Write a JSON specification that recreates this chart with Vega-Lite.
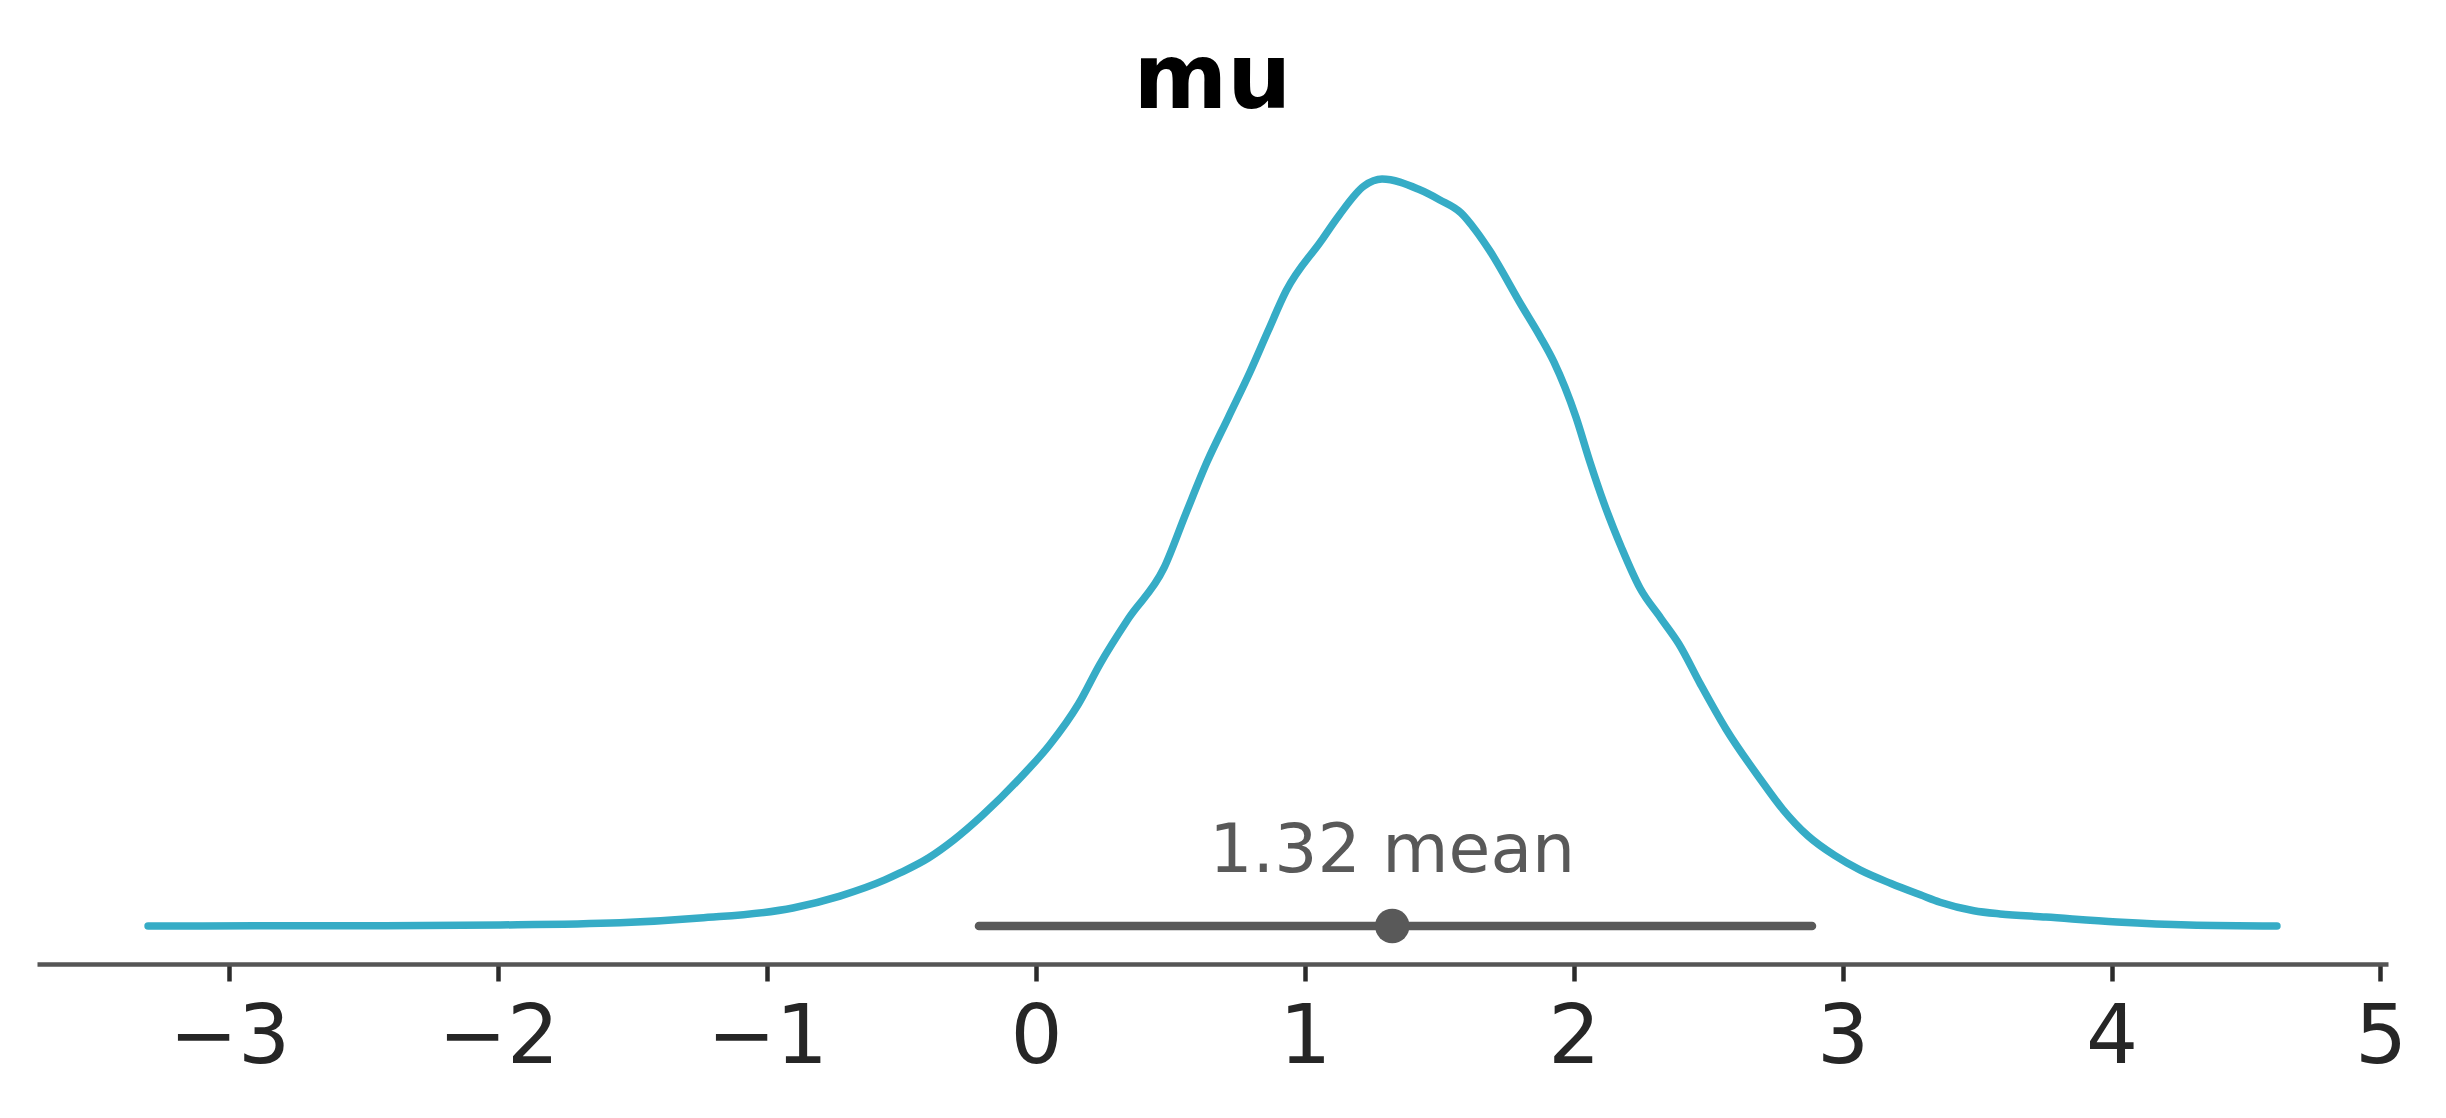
{
  "$schema": "https://vega.github.io/schema/vega-lite/v6.json",
  "width": 2351,
  "height": 824,
  "autosize": "none",
  "padding": {"left": 37, "right": 58, "top": 140, "bottom": 154},
  "background": "white",
  "title": {"text": "mu", "font": "DejaVu Sans", "fontSize": 90, "fontWeight": "bold", "color": "#000000", "anchor": "middle", "offset": 13},
  "config": {"view": {"stroke": null}},
  "datasets": {
    "kde": [
      {"x": -3.302, "density": 0.0000},
      {"x": -2.9, "density": 0.0001},
      {"x": -2.421, "density": 0.0002},
      {"x": -1.993, "density": 0.0006},
      {"x": -1.547, "density": 0.0019},
      {"x": -1.25, "density": 0.0047},
      {"x": -0.904, "density": 0.0106},
      {"x": -0.729, "density": 0.0176},
      {"x": -0.562, "density": 0.0271},
      {"x": -0.506, "density": 0.0312},
      {"x": -0.4, "density": 0.0400},
      {"x": -0.306, "density": 0.0506},
      {"x": -0.2, "density": 0.0650},
      {"x": -0.056, "density": 0.0876},
      {"x": 0.052, "density": 0.1068},
      {"x": 0.158, "density": 0.1306},
      {"x": 0.238, "density": 0.1541},
      {"x": 0.344, "density": 0.1809},
      {"x": 0.476, "density": 0.2106},
      {"x": 0.558, "density": 0.2429},
      {"x": 0.636, "density": 0.2729},
      {"x": 0.716, "density": 0.2994},
      {"x": 0.796, "density": 0.3259},
      {"x": 0.863, "density": 0.35},
      {"x": 0.93, "density": 0.3735},
      {"x": 1.06, "density": 0.4029},
      {"x": 1.127, "density": 0.418},
      {"x": 1.22, "density": 0.4353},
      {"x": 1.287, "density": 0.4394},
      {"x": 1.421, "density": 0.4335},
      {"x": 1.502, "density": 0.4271},
      {"x": 1.581, "density": 0.4194},
      {"x": 1.636, "density": 0.409},
      {"x": 1.688, "density": 0.3971},
      {"x": 1.807, "density": 0.3647},
      {"x": 1.874, "density": 0.347},
      {"x": 1.926, "density": 0.3318},
      {"x": 2.008, "density": 0.2994},
      {"x": 2.06, "density": 0.273},
      {"x": 2.112, "density": 0.2488},
      {"x": 2.179, "density": 0.222},
      {"x": 2.246, "density": 0.1988},
      {"x": 2.324, "density": 0.181},
      {"x": 2.391, "density": 0.1659},
      {"x": 2.472, "density": 0.142},
      {"x": 2.566, "density": 0.1159},
      {"x": 2.696, "density": 0.0859},
      {"x": 2.778, "density": 0.0685},
      {"x": 2.871, "density": 0.0530},
      {"x": 2.97, "density": 0.0415},
      {"x": 3.064, "density": 0.0330},
      {"x": 3.18, "density": 0.0250},
      {"x": 3.291, "density": 0.0182},
      {"x": 3.362, "density": 0.0140},
      {"x": 3.488, "density": 0.0090},
      {"x": 3.585, "density": 0.0071},
      {"x": 3.756, "density": 0.0053},
      {"x": 4.02, "density": 0.0024},
      {"x": 4.288, "density": 0.0006},
      {"x": 4.615, "density": 0.0}
    ],
    "summary": [
      {"mean": 1.325, "hdi_low": -0.212, "hdi_high": 2.886, "label": "1.32 mean"}
    ]
  },
  "layer": [
    {
      "data": {"name": "kde"},
      "mark": {"type": "line", "color": "#36acc6", "strokeWidth": 7.5, "strokeCap": "round", "strokeJoin": "round", "interpolate": "monotone"},
      "encoding": {
        "x": {"field": "x", "type": "quantitative",
              "scale": {"domain": [-3.715, 5.028], "nice": false, "zero": false},
              "axis": {"values": [-3, -2, -1, 0, 1, 2, 3, 4, 5], "format": "d", "title": null, "grid": false,
                       "domainColor": "#555555", "domainWidth": 4.5, "tickColor": "#2b2b2b", "tickWidth": 4.5, "tickSize": 17,
                       "labelFont": "DejaVu Sans", "labelFontSize": 82, "labelColor": "#262626", "labelPadding": 16, "labelLimit": 1000, "labelFlush": false, "labelOverlap": false}},
        "y": {"field": "density", "type": "quantitative",
              "scale": {"domain": [-0.02235, 0.46235], "nice": false, "zero": false},
              "axis": null}
      }
    },
    {
      "data": {"name": "summary"},
      "mark": {"type": "rule", "color": "#595959", "strokeWidth": 8.5, "strokeCap": "round"},
      "encoding": {
        "x": {"field": "hdi_low", "type": "quantitative"},
        "x2": {"field": "hdi_high"},
        "y": {"datum": 0}
      }
    },
    {
      "data": {"name": "summary"},
      "mark": {"type": "point", "filled": true, "color": "#595959", "opacity": 1, "size": 1195, "shape": "circle"},
      "encoding": {
        "x": {"field": "mean", "type": "quantitative"},
        "y": {"datum": 0}
      }
    },
    {
      "data": {"name": "summary"},
      "mark": {"type": "text", "color": "#595959", "font": "DejaVu Sans", "fontSize": 68, "align": "center", "baseline": "alphabetic", "dy": -54},
      "encoding": {
        "x": {"field": "mean", "type": "quantitative"},
        "y": {"datum": 0},
        "text": {"field": "label"}
      }
    }
  ]
}
